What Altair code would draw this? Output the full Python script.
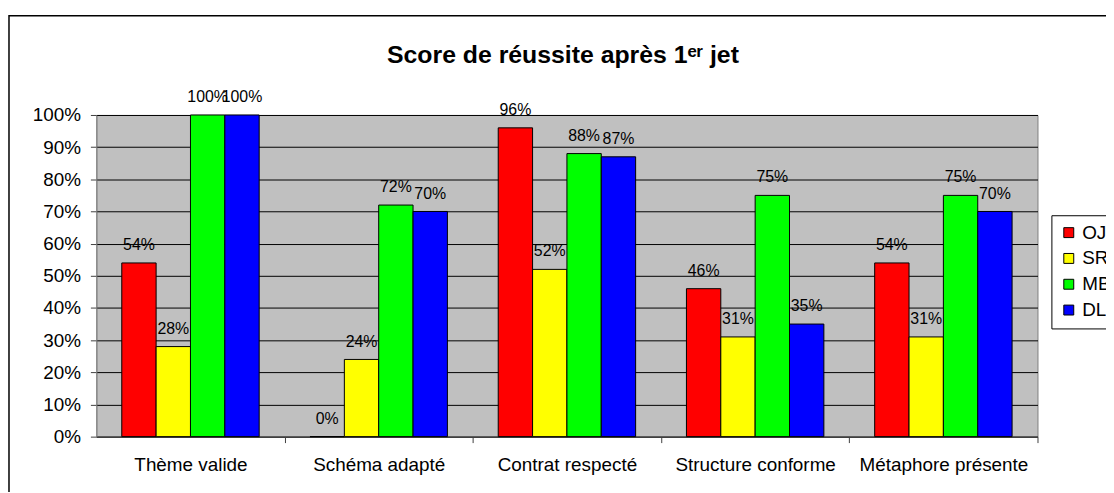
import altair as alt
import pandas as pd

categories = ["Thème valide", "Schéma adapté", "Contrat respecté", "Structure conforme", "Métaphore présente"]
series = ["OJ", "SR", "MB", "DL"]
oj = [54, 0, 96, 46, 54]
sr = [28, 24, 52, 31, 31]
mb = [100, 72, 88, 75, 75]
dl = [100, 70, 87, 35, 70]
colors = ["#FF0000", "#FFFF00", "#00FF00", "#0000FF"]
y_ticks = [0, 0.1, 0.2, 0.3, 0.4, 0.5, 0.6, 0.7, 0.8, 0.9, 1.0]
title_text = "Score de réussite après 1ᵉʳ jet"

rows = []
for s, vals in zip(series, [oj, sr, mb, dl]):
    for c, v in zip(categories, vals):
        rows.append({"cat": c, "serie": s, "value": v / 100, "label": f"{v}%"})
df = pd.DataFrame(rows)

W, H = 948, 324
P = 0.27
STEP = W / len(categories)
FONT = "Liberation Sans"

xscale = alt.Scale(domain=categories, paddingInner=P, paddingOuter=P / 2)
offscale = alt.Scale(domain=series, paddingInner=0, paddingOuter=0)
yscale = alt.Scale(domain=[0, 1])

x_enc = alt.X("cat:N", scale=xscale, sort=categories,
              axis=alt.Axis(title=None, labelAngle=0, labelFontSize=19, labelFont=FONT,
                            labelColor="black", tickSize=6, tickColor="#404040",
                            domainColor="#404040", tickOffset=STEP / 2,
                            labelOffset=-STEP / 2, labelPadding=13, grid=False))
y_enc = alt.Y("value:Q", scale=yscale,
              axis=alt.Axis(title=None, values=y_ticks, format=".0%", labelFontSize=19,
                            labelFont=FONT, labelColor="black", tickSize=6,
                            tickColor="#404040", domainColor="#808080", labelPadding=10,
                            grid=True, gridColor="black", gridWidth=1))
off_enc = alt.XOffset("serie:N", sort=series, scale=offscale)

one = pd.DataFrame({"t": [title_text]})

frame = alt.Chart(one).mark_rect(
    fillOpacity=0, stroke="black", strokeWidth=1.5
).encode(x=alt.value(-88), x2=alt.value(W + 300), y=alt.value(-100), y2=alt.value(H + 300))

title = alt.Chart(one).mark_text(
    fontSize=25, fontWeight="bold", font=FONT, color="black", align="center",
    baseline="alphabetic"
).encode(x=alt.value(470), y=alt.value(-52), text="t:N")

bars = alt.Chart(df).mark_bar(stroke="black", strokeWidth=1).encode(
    x=x_enc,
    xOffset=off_enc,
    y=y_enc,
    color=alt.Color("serie:N", scale=alt.Scale(domain=series, range=colors),
                    legend=alt.Legend(title=None, orient="none", legendX=962, legendY=101,
                                      strokeColor="black", fillColor="white", padding=8,
                                      symbolType="square", symbolSize=100,
                                      symbolStrokeColor="black", symbolStrokeWidth=1,
                                      labelFontSize=19, labelFont=FONT, labelColor="black",
                                      rowPadding=6, labelOffset=4)),
)

labels = alt.Chart(df).mark_text(
    baseline="alphabetic", dy=-13, fontSize=16, font=FONT, color="black"
).encode(x=x_enc, xOffset=off_enc, y=y_enc, text="label:N")

chart = alt.layer(frame, title, bars, labels).properties(
    width=W, height=H,
    autosize=alt.AutoSizeParams(type="none"),
    padding={"left": 89, "top": 106, "right": 69, "bottom": 54},
).configure(background="white").configure_view(fill="#C0C0C0", stroke="#808080", strokeWidth=1)

chart.save("out.html", embed_options={"renderer": "svg", "actions": False})
